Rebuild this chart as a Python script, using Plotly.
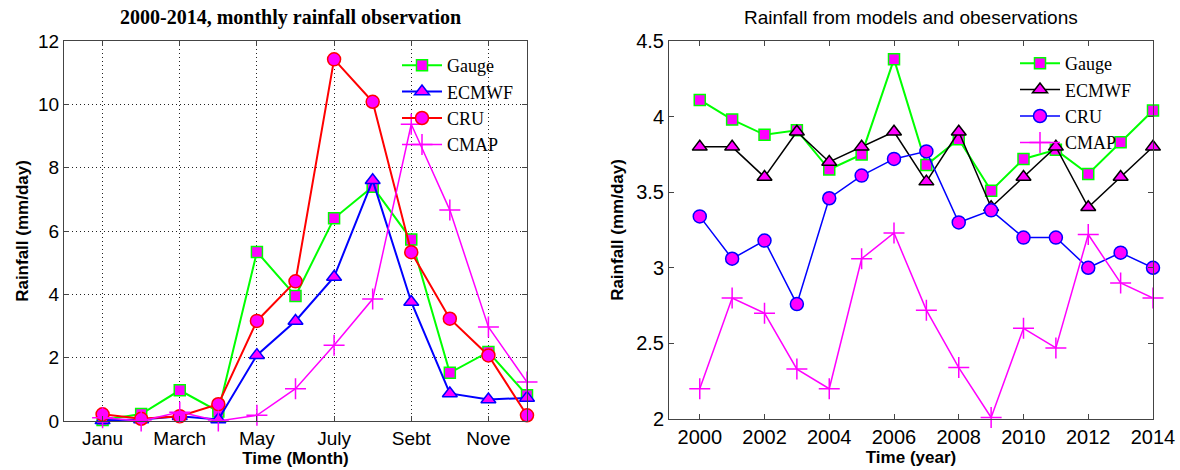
import plotly.graph_objects as go

# ---- Left chart: monthly climatology (2000-2014)
months = [1, 2, 3, 4, 5, 6, 7, 8, 9, 10, 11, 12]
month_tickvals = [1, 3, 5, 7, 9, 11]
month_ticktext = ["Janu", "March", "May", "July", "Sebt", "Nove"]
gauge_m = [0.03, 0.22, 0.97, 0.30, 5.34, 3.95, 6.40, 7.40, 5.73, 1.52, 2.18, 0.81]
ecmwf_m = [0.02, 0.05, 0.15, 0.05, 2.08, 3.16, 4.55, 7.60, 3.76, 0.87, 0.68, 0.73]
cru_m = [0.21, 0.07, 0.15, 0.53, 3.16, 4.41, 11.42, 10.08, 5.33, 3.23, 2.07, 0.18]
cmap_m = [0.10, 0.00, 0.28, 0.00, 0.18, 1.02, 2.39, 3.85, 9.37, 6.66, 2.97, 1.23]

# ---- Right chart: annual means
years = list(range(2000, 2015))
year_tickvals = [2000, 2002, 2004, 2006, 2008, 2010, 2012, 2014]
gauge_y = [4.11, 3.98, 3.88, 3.91, 3.65, 3.75, 4.38, 3.68, 3.85, 3.51, 3.72, 3.78, 3.62, 3.83, 4.04]
ecmwf_y = [3.80, 3.80, 3.60, 3.90, 3.70, 3.80, 3.90, 3.57, 3.90, 3.40, 3.60, 3.80, 3.40, 3.60, 3.80]
cru_y = [3.34, 3.06, 3.18, 2.76, 3.46, 3.61, 3.72, 3.77, 3.30, 3.38, 3.20, 3.20, 3.00, 3.10, 3.00]
cmap_y = [2.20, 2.80, 2.70, 2.33, 2.20, 3.06, 3.23, 2.72, 2.34, 2.01, 2.60, 2.47, 3.22, 2.90, 2.80]

MAG = "#ff00ff"
GREEN = "#00ff00"
BLUE = "#0000ff"
RED = "#ff0000"

fig = go.Figure()


def add(x, y, name, line_color, symbol, size, xa, ya, legend, width=2):
    if symbol == "cross-thin-open":
        marker = dict(symbol=symbol, size=size, color=MAG, line=dict(color=MAG, width=1.5))
    else:
        marker = dict(symbol=symbol, size=size, color=MAG, line=dict(color=line_color, width=1.5))
    fig.add_trace(go.Scatter(
        x=x, y=y, name=name, mode="lines+markers",
        line=dict(color=line_color, width=width),
        marker=marker, xaxis=xa, yaxis=ya, legend=legend, cliponaxis=False))


add(months, gauge_m, "Gauge", GREEN, "square", 11, "x", "y", "legend")
add(months, ecmwf_m, "ECMWF", BLUE, "triangle-up", 13, "x", "y", "legend")
add(months, cru_m, "CRU", RED, "circle", 13, "x", "y", "legend")
add(months, cmap_m, "CMAP", MAG, "cross-thin-open", 15, "x", "y", "legend", width=1.5)

add(years, gauge_y, "Gauge", GREEN, "square", 11, "x2", "y2", "legend2")
add(years, ecmwf_y, "ECMWF", "black", "triangle-up", 13, "x2", "y2", "legend2", width=1.5)
add(years, cru_y, "CRU", BLUE, "circle", 13, "x2", "y2", "legend2", width=1.5)
add(years, cmap_y, "CMAP", MAG, "cross-thin-open", 15, "x2", "y2", "legend2", width=1.5)

W, H = 1180, 470
tickfont1 = dict(family="Liberation Sans, Arial", size=19, color="black")
tickfont2 = dict(family="Liberation Sans, Arial", size=20, color="black")
titlefont = dict(family="Liberation Sans, Arial", size=17, color="black", weight="bold")
legfont = dict(family="Liberation Serif, Times New Roman", size=18, color="black")

axis_common = dict(showline=True, linecolor="#444444", linewidth=1, mirror="ticks",
                   ticks="inside", ticklen=5, tickcolor="#444444", zeroline=False,
                   automargin=False)

fig.update_layout(
    width=W, height=H,
    margin=dict(l=0, r=0, t=0, b=0, pad=0),
    paper_bgcolor="white", plot_bgcolor="white",
    xaxis=dict(domain=[64 / W, 527 / W], range=[0, 12], tickvals=month_tickvals,
               ticktext=month_ticktext, showgrid=True, gridcolor="#222222",
               griddash="1px,3px", gridwidth=1, anchor="y", tickfont=tickfont1,
               title=dict(text="Time (Month)", font=titlefont, standoff=2), **axis_common),
    yaxis=dict(domain=[1 - 421 / H, 1 - 41 / H], range=[0, 12], dtick=2,
               showgrid=True, gridcolor="#222222", griddash="1px,3px", gridwidth=1, anchor="x",
               tickfont=tickfont1,
               title=dict(text="Rainfall (mm/day)", font=titlefont, standoff=5), **axis_common),
    xaxis2=dict(domain=[669 / W, 1153 / W], range=[1999.05, 2014], tickvals=year_tickvals,
                showgrid=False, anchor="y2", tickfont=tickfont2,
                title=dict(text="Time (year)", font=titlefont, standoff=2), **axis_common),
    yaxis2=dict(domain=[1 - 419 / H, 1 - 41 / H], range=[2, 4.5], dtick=0.5,
                tickformat="~g", showgrid=False, anchor="x2", tickfont=tickfont2,
                title=dict(text="Rainfall (mm/day)", font=titlefont, standoff=8), **axis_common),
    legend=dict(x=397 / W, y=1 - 47 / H, xanchor="left", yanchor="top",
                bgcolor="rgba(0,0,0,0)", font=legfont, tracegroupgap=0, itemwidth=40),
    legend2=dict(x=1015 / W, y=1 - 45 / H, xanchor="left", yanchor="top",
                 bgcolor="rgba(0,0,0,0)", font=legfont, tracegroupgap=0, itemwidth=40),
    showlegend=True,
    annotations=[
        dict(text="<b>2000-2014, monthly rainfall observation</b>", x=290 / W, y=1 - 17 / H,
             xref="paper", yref="paper", showarrow=False, xanchor="center", yanchor="middle",
             font=dict(family="Liberation Serif, Times New Roman", size=20, color="black")),
        dict(text="Rainfall from models and obeservations", x=911 / W, y=1 - 17 / H,
             xref="paper", yref="paper", showarrow=False, xanchor="center", yanchor="middle",
             font=dict(family="Liberation Sans, Arial", size=19, color="black")),
    ],
)

fig.write_html("out.html", config={"displayModeBar": False},
               post_script="document.body.style.margin='0px';document.body.style.overflow='hidden';")
